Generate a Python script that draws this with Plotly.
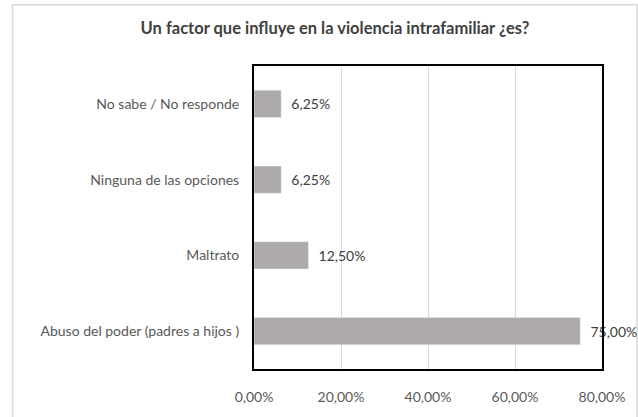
import plotly.graph_objects as go

categories = ["Abuso del poder (padres a hijos )", "Maltrato", "Ninguna de las opciones", "No sabe / No responde"]
values = [0.75, 0.125, 0.0625, 0.0625]
tick_vals = [0, 0.2, 0.4, 0.6, 0.8]

FONT = "Lato, Open Sans, sans-serif"

fig = go.Figure(go.Bar(
    y=categories, x=values, orientation="h",
    marker=dict(color="#aeaaaa"),
    texttemplate="\u00a0\u00a0%{x:.2%}", textposition="outside", cliponaxis=False,
    textfont=dict(family=FONT, size=14, color="#404040"),
    width=0.36,
))

fig.update_layout(
    width=638, height=417,
    margin=dict(l=254, r=36, t=66, b=39),
    paper_bgcolor="white", plot_bgcolor="white",
    separators=",.",
    showlegend=False,
    title=dict(text="<b>Un factor que influye en la violencia intrafamiliar ¿es?</b>",
               x=0.525, xanchor="center", y=0.933, yanchor="middle",
               font=dict(family=FONT, size=16.5, color="#404040")),
    font=dict(family=FONT, size=14, color="#595959"),
    shapes=[dict(type="rect", xref="paper", yref="paper",
                 x0=-0.694, x1=1.1006, y0=-0.2, y1=1.202,
                 line=dict(color="#d9d9d9", width=1.5), layer="below")],
)
fig.update_xaxes(range=[0, 0.8], tickvals=tick_vals, tickformat=".2%",
                 showgrid=True, gridcolor="#d9d9d9", gridwidth=1,
                 showline=True, linecolor="black", linewidth=2, mirror=True,
                 zeroline=False, ticks="", ticklabelstandoff=14,
                 tickfont=dict(family=FONT, size=14, color="#595959"))
fig.update_yaxes(showgrid=False, showline=True, linecolor="black", linewidth=2, mirror=True,
                 ticks="", ticklabelstandoff=10,
                 tickfont=dict(family=FONT, size=14, color="#595959"))

fig.write_html("out.html", config={"displayModeBar": False},
               post_script="document.body.style.margin='0';")
